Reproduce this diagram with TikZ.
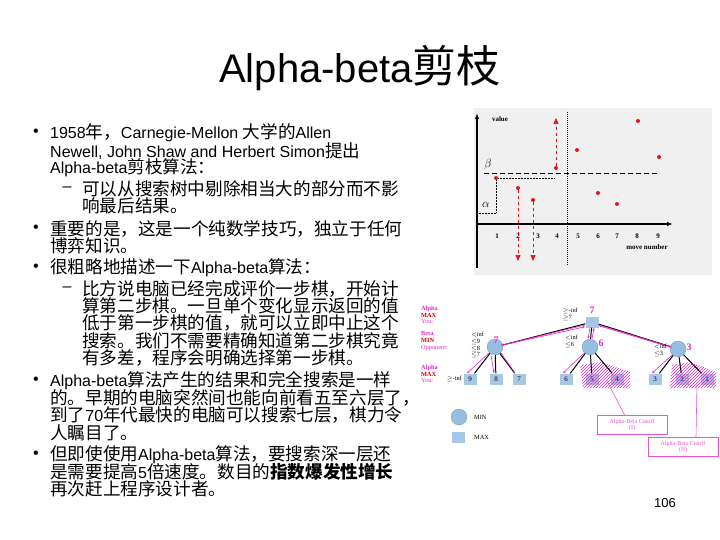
\documentclass[tikz,border=0pt]{standalone}
\usepackage{fontspec}
\setmainfont{Liberation Sans}
\newfontfamily\cjk[Scale=1.1]{Noto Sans CJK SC}
\newfontfamily\tms{Liberation Serif}
\newcommand\zh[1]{{\cjk #1}}
\usetikzlibrary{arrows.meta,patterns}
\definecolor{mag}{RGB}{230,40,200}
\definecolor{nodeblue}{RGB}{150,190,225}
\definecolor{redpt}{RGB}{230,20,20}
\tikzset{
 line/.style={anchor=west,inner sep=0pt,font=\fontsize{16}{16}\selectfont},
 bmark/.style={anchor=center,inner sep=0pt,font=\fontsize{16}{16}\selectfont},
 tiny/.style={inner sep=0pt,font=\tms\fontsize{6.3}{6.8}\selectfont},
 pt/.style={circle,fill=redpt,inner sep=0pt,minimum size=4pt},
 minn/.style={circle,fill=nodeblue,draw=nodeblue!70!black,line width=0.2pt,minimum size=16pt,inner sep=0pt},
 maxn/.style={rectangle,fill=nodeblue!85,minimum width=13pt,minimum height=11pt,inner sep=0pt,font=\tms\fontsize{7}{7}\selectfont},
 edge/.style={line width=1pt,black},
 marr/.style={mag,line width=0.6pt,-{Stealth[length=3pt]}},
 cut/.style={draw=mag!80,line width=0.7pt,fill=white,font=\tms\fontsize{6}{6.5}\selectfont,text=mag!80,align=center,minimum width=70pt,minimum height=19pt},
 lab/.style={tiny,text=mag,anchor=west,align=left},
}
\begin{document}
\begin{tikzpicture}[x=1pt,y=-1pt]
\useasboundingbox (0,0) rectangle (720,540);
\node[inner sep=0pt,font=\fontsize{40}{40}\selectfont] (title) at (360,68) {Alpha-beta\zh{剪枝}};
% bullets
\foreach \n/\yy in {b1/133,b2/229,b3/268,b4/381,b5/455}{\node[bmark] (\n) at (36,\yy) {\textbullet};}
\foreach \n/\yy in {d1/189,d2/289}{\node[bmark] (\n) at (67,\yy) {--};}
\node[line] (l1) at (50,133) {1958\zh{年，}Carnegie-Mellon \zh{大学的}Allen};
\node[line] (l2) at (50,151) {Newell, John Shaw and Herbert Simon\zh{提出}};
\node[line] (l3) at (50,168) {Alpha-beta\zh{剪枝算法：}};
\node[line] (l4) at (82,189) {\zh{可以从搜索树中剔除相当大的部分而不影}};
\node[line] (l5) at (82,206) {\zh{响最后结果。}};
\node[line] (l6) at (50,229) {\zh{重要的是，这是一个纯数学技巧，独立于任何}};
\node[line] (l7) at (50,246) {\zh{博弈知识。}};
\node[line] (l8) at (50,268) {\zh{很粗略地描述一下}Alpha-beta\zh{算法：}};
\node[line] (l9) at (82,289) {\zh{比方说电脑已经完成评价一步棋，开始计}};
\node[line] (l10) at (82,306) {\zh{算第二步棋。一旦单个变化显示返回的值}};
\node[line] (l11) at (82,323) {\zh{低于第一步棋的值，就可以立即中止这个}};
\node[line] (l12) at (82,341) {\zh{搜索。我们不需要精确知道第二步棋究竟}};
\node[line] (l13) at (82,358) {\zh{有多差，程序会明确选择第一步棋。}};
\node[line] (l14) at (50,381) {Alpha-beta\zh{算法产生的结果和完全搜索是一样}};
\node[line] (l15) at (50,398) {\zh{的。早期的电脑突然间也能向前看五至六层了，}};
\node[line] (l16) at (50,415) {\zh{到了}70\zh{年代最快的电脑可以搜索七层，棋力令}};
\node[line] (l17) at (50,433) {\zh{人瞩目了。}};
\node[line] (l18) at (50,455) {\zh{但即使使用}Alpha-beta\zh{算法，要搜索深一层还}};
\node[line] (l19) at (50,472) {\zh{是需要提高}5\zh{倍速度。数目的}\textbf{\zh{指数爆发性增长}}};
\node[line] (l20) at (50,489) {\zh{再次赶上程序设计者。}};
\node[inner sep=0pt,font=\fontsize{13}{13}\selectfont] (pg) at (665,503) {106};
% chart
\fill[black!6] (474,108) rectangle (712,275);
\draw[line width=1.2pt,-{Latex[length=6pt]}] (477,268) -- (477,113);
\draw[line width=1.2pt,-{Latex[length=6pt]}] (477,224) -- (673,224);
\node[tiny,font=\tms\bfseries\fontsize{7}{7}\selectfont] (val) at (500,119) {value};
\node[tiny,font=\tms\bfseries\fontsize{7}{7}\selectfont] (mv) at (647,247) {move number};
\draw[blue!60!black,line width=0.4pt,dash pattern=on 1pt off 1pt] (567,112) -- (567,265);
\draw[line width=0.6pt,dash pattern=on 5pt off 3pt] (484,173) -- (660,173);
\node[tiny,font=\tms\fontsize{12}{12}\selectfont] (beta) at (488,165) {$\beta$};
\node[tiny,font=\tms\fontsize{12}{12}\selectfont] (alpha) at (486,205) {$\alpha$};
\foreach \n/\xx/\yy in {p1/496/178,p2/518/188,p3/533/200,p4/556/168,p5/577/150,p6/598/193,p7/617/204,p8/638/121,p9/659/157}{\node[pt] (\n) at (\xx,\yy) {};}
\draw[densely dotted,line width=0.5pt] (p1) -- (555,178) (p1) |- (477,213);
\coordinate (a2) at (518,261); \coordinate (a3) at (533,261); \coordinate (a4) at (556,118);
\draw[redpt,dashed,line width=0.7pt,-{Triangle[length=6pt,width=5pt]}] (p2) -- (a2);
\draw[redpt,dashed,line width=0.7pt,-{Triangle[length=6pt,width=5pt]}] (p3) -- (a3);
\draw[redpt,dashed,line width=0.7pt,-{Triangle[length=6pt,width=5pt]}] (p4) -- (a4);
\foreach \t/\xx in {1/497,2/518,3/538,4/557,5/578,6/598,7/617,8/637,9/658}{\node[tiny,font=\tms\bfseries\fontsize{7}{7}\selectfont] (tk\t) at (\xx,236) {\t};}
% tree
\node[maxn] (r) at (592,322) {};
\node[minn] (m1) at (495,347) {};
\node[minn] (m2) at (590,347) {};
\node[minn] (m3) at (678,349) {};
\foreach \n/\xx/\v in {c1/470/9,c2/496/8,c3/519/7,c4/566/6,c5/592/5,c6/617/4,c7/655/3,c8/682/2,c9/707/1}{\node[maxn] (\n) at (\xx,379) {\v};}
\fill[pattern=north east lines,pattern color=mag] (580,365) -- (600,362) -- (630,372) -- (630,388) -- (583,388) -- cycle;
\fill[pattern=north east lines,pattern color=mag] (672,365) -- (690,362) -- (716,372) -- (716,388) -- (670,388) -- cycle;
\draw[edge] (r) -- (m1); \draw[edge] (r) -- (m2); \draw[edge] (r) -- (m3);
\draw[edge] (m1) -- (c1); \draw[edge] (m1) -- (c2); \draw[edge] (m1) -- (c3);
\draw[edge] (m2) -- (c4); \draw[edge] (m2) -- (c5); \draw[edge] (m2) -- (c6);
\draw[edge] (m3) -- (c7); \draw[edge] (m3) -- (c8); \draw[edge] (m3) -- (c9);
\draw[marr] ([yshift=-3pt]r.west) -- ([yshift=-4pt]m1.north east);
\draw[marr] ([yshift=2pt]m1.east) -- ([yshift=1pt]r.south west);
\draw[marr] ([xshift=-2pt]r.south) -- ([xshift=-2pt]m2.north);
\draw[marr] ([xshift=2pt]m2.north) -- ([xshift=2pt]r.south);
\draw[marr] ([yshift=-3pt]r.east) -- ([yshift=-4pt]m3.north west);
\draw[marr] ([yshift=2pt]m3.west) -- ([yshift=2pt]r.south east);
\draw[marr] (m1.south west) -- ([xshift=-3pt]c1.north);
\draw[marr] ([xshift=-4pt]m1.south) -- ([xshift=-2pt]c2.north);
\draw[marr] ([xshift=3pt]c3.north west) -- (m1.south east);
\draw[marr] (m2.south west) -- ([xshift=-3pt]c4.north);
\draw[marr] (m3.south west) -- ([xshift=-3pt]c7.north);
\node[tiny,text=mag,font=\tms\bfseries\fontsize{10}{10}\selectfont] (v0) at (592,310) {7};
\node[tiny,text=mag,font=\tms\bfseries\fontsize{10}{10}\selectfont] (v1) at (496,340) {7};
\node[tiny,text=mag,font=\tms\bfseries\fontsize{10}{10}\selectfont] (v2) at (601,343) {6};
\node[tiny,text=mag,font=\tms\bfseries\fontsize{10}{10}\selectfont] (v3) at (689,347) {3};
\node[tiny,anchor=east,align=left] (ar) at (578,314) {$\geq$-inf\\$\geq$7};
\node[tiny,anchor=east,align=left] (a1) at (484,345) {$<$inf\\$\leq$9\\$\leq$8\\$\leq$7};
\node[tiny,anchor=east,align=left] (a2n) at (578,341) {$<$inf\\$\leq$6};
\node[tiny,anchor=east,align=left] (a3n) at (667,350) {$<$inf\\$\leq$3};
\node[tiny,anchor=east] (a0) at (462,379) {$\geq$-inf};
\node[lab] (L1) at (421,315) {\textbf{Alpha}\\\textbf{\textcolor{red!80!black}{MAX}}\\You:};
\node[lab] (L2) at (421,341) {\textbf{Beta}\\\textbf{\textcolor{red!80!black}{MIN}}\\Opponent:};
\node[lab] (L3) at (421,374) {\textbf{Alpha}\\\textbf{\textcolor{red!80!black}{MAX}}\\You:};
\node[minn] (lg1) at (459,417) {};
\node[tiny,anchor=west] (lg1t) at (474,417) {MIN};
\node[maxn] (lg2) at (458,437) {};
\node[tiny,anchor=west] (lg2t) at (474,437) {MAX};
\node[cut] (k1) at (632,425) {Alpha-Beta Cutoff\\(I)};
\node[cut] (k2) at (683,447) {Alpha-Beta Cutoff\\(II)};
\coordinate (h1) at (607,381); \coordinate (h2) at (697,383);
\draw[mag!80,line width=0.6pt] (k1.north west) ++(28,0) -- (h1);
\draw[mag!80,line width=0.6pt] (k2.north) ++(13,0) -- (h2);
\end{tikzpicture}
\end{document}
